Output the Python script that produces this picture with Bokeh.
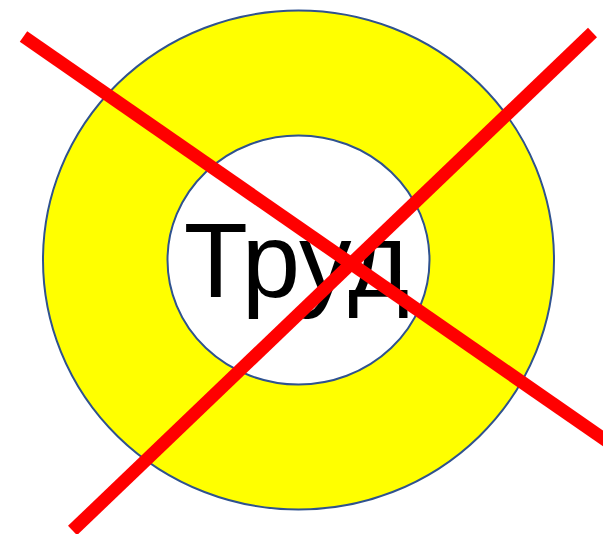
from bokeh.plotting import figure
from bokeh.models import Range1d
from bokeh.core.properties import value
from bokeh.embed import file_html
from bokeh.resources import INLINE

# --- data (reference pixel coordinates) ---
ring_x = [298, 298]
ring_y = [259.5, 259.5]
ring_w = [511, 262]
ring_h = [499, 249]
ring_fill = ["#FFFF00", "#FFFFFF"]

label = ["Труд"]
label_x = [296]
label_y = [260]

cross_x0 = [23, 592]
cross_y0 = [36, 32]
cross_x1 = [620, 72]
cross_y1 = [450, 530]

p = figure(width=603, height=534, output_backend="svg", toolbar_location=None,
           x_range=Range1d(0, 603), y_range=Range1d(534, 0),
           min_border=0, min_border_left=0, min_border_right=0,
           min_border_top=0, min_border_bottom=0)
p.axis.visible = False
p.grid.visible = False
p.outline_line_color = None
p.background_fill_color = "white"
p.border_fill_color = "white"

p.ellipse(x=ring_x, y=ring_y, width=ring_w, height=ring_h,
          fill_color=ring_fill, line_color="#2F528F", line_width=2)

p.text(x=label_x, y=label_y, text=label, text_font=value("Liberation Sans"),
       text_font_size="105px", text_align="center", text_baseline="alphabetic",
       text_color="black")

p.segment(x0=cross_x0, y0=cross_y0, x1=cross_x1, y1=cross_y1,
          line_color="#FF0000", line_width=13, line_cap="butt")

open("out.html", "w").write(file_html(p, INLINE))
